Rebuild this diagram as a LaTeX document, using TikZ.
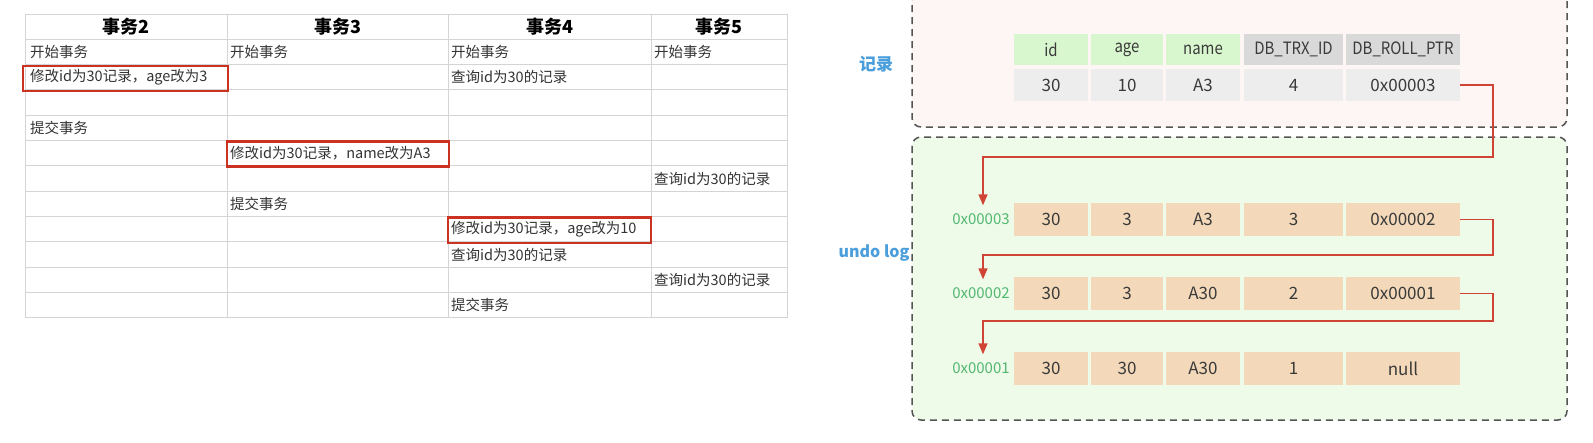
\documentclass[tikz,border=0pt]{standalone}
\usepackage{fontspec}
\setmainfont{Noto Sans CJK SC}
\newfontfamily\cond[FakeStretch=0.88]{Noto Sans CJK SC}
\usetikzlibrary{arrows.meta,calc}
\definecolor{gridgray}{HTML}{D4D4D4}
\definecolor{tabtext}{HTML}{333333}
\definecolor{hlred}{HTML}{CC3222}
\definecolor{arrred}{HTML}{D04436}
\definecolor{hgreen}{HTML}{D9F7CF}
\definecolor{hgray}{HTML}{D9D9D9}
\definecolor{dgray}{HTML}{EDEDED}
\definecolor{peach}{HTML}{F3D9B9}
\definecolor{pinkbg}{HTML}{FDF6F4}
\definecolor{greenbg}{HTML}{EEFBE8}
\definecolor{lblblue}{HTML}{4A9EDC}
\definecolor{addrgreen}{HTML}{52B872}
\definecolor{celltext}{HTML}{3A3A3A}
\definecolor{dashgray}{HTML}{555555}
\begin{document}
\begin{tikzpicture}[x=1pt,y=-1pt,
  gridline/.style={draw=gridgray, line width=1pt},
  ttext/.style={anchor=west, inner sep=0pt, text=tabtext, font=\fontsize{14.5}{16}\selectfont},
  thead/.style={inner sep=0pt, text=black, font=\fontsize{18}{20}\selectfont\bfseries},
  hlbox/.style={draw=hlred, line width=2.4pt, inner sep=0pt},
  cell/.style={inner sep=0pt, minimum height=32pt, text=celltext, font=\fontsize{17}{19}\selectfont},
  hcell/.style={cell, minimum height=31pt, font=\cond\fontsize{17}{19}\selectfont},
  ucell/.style={cell, fill=peach, minimum height=33pt},
  addr/.style={inner sep=0pt, minimum height=28pt, text=addrgreen, font=\fontsize{15}{17}\selectfont},
  lbl/.style={inner sep=0pt, text=lblblue, font=\fontsize{16}{18}\selectfont\bfseries},
  dbox/.style={draw=dashgray, line width=1.5pt, dash pattern=on 7pt off 5pt, rounded corners=9pt},
  arr/.style={draw=arrred, line width=1.4pt, -{Triangle[length=11pt,width=9pt]}}
]
\useasboundingbox (0,0) rectangle (1593,442);
\fill[white] (0,0) rectangle (1593,442);

% ---------- left table ----------
\foreach \yy in {14,39} \draw[gridline] (25,\yy) -- (787,\yy);
\foreach \k in {1,...,11} \draw[gridline] (25,{39+25.36*\k}) -- (787,{39+25.36*\k});
\foreach \xx in {25,227,448,651,787} \draw[gridline] (\xx,14) -- (\xx,318);

\node[thead] (hd2) at (126,27) {事务2};
\node[thead] (hd3) at (337.5,27) {事务3};
\node[thead] (hd4) at (549.5,27) {事务4};
\node[thead] (hd5) at (719,27) {事务5};

% row centres: 39+25.36*(k-0.5)
\node[ttext] (a1c1) at (30,51.7) {开始事务};
\node[ttext] (a1c2) at (230,51.7) {开始事务};
\node[ttext] (a1c3) at (451,51.7) {开始事务};
\node[ttext] (a1c4) at (654,51.7) {开始事务};
\node[ttext] (a2c1) at (30,77.5) {修改id为30记录，age改为3};
\node[ttext] (a2c3) at (451,77.1) {查询id为30的记录};
\node[ttext] (a4c1) at (30,127.8) {提交事务};
\node[ttext] (a5c2) at (230,153.5) {修改id为30记录，name改为A3};
\node[ttext] (a6c4) at (654,178.5) {查询id为30的记录};
\node[ttext] (a7c2) at (230,203.9) {提交事务};
\node[ttext] (a8c3) at (451,229.6) {修改id为30记录，age改为10};
\node[ttext] (a9c3) at (451,254.6) {查询id为30的记录};
\node[ttext] (a10c4) at (654,280) {查询id为30的记录};
\node[ttext] (a11c3) at (451,305.3) {提交事务};

\node[hlbox, minimum width=205pt, minimum height=25pt] (hl1) at (125.5,78.5) {};
\node[hlbox, minimum width=222pt, minimum height=25pt] (hl2) at (338,154) {};
\node[hlbox, minimum width=203pt, minimum height=25.5pt] (hl3) at (549.5,230.2) {};

% ---------- right: boxes ----------
\begin{scope}
\clip (0,0) rectangle (1593,442);
\draw[dbox, fill=pinkbg] (912,-40) rectangle (1567,127);
\end{scope}
\draw[dbox, fill=greenbg] (912,137) rectangle (1567,420);

\node[lbl, font=\fontsize{17}{19}\selectfont\bfseries] (lrec) at (876,64) {记录};
\node[lbl] (lundo) at (874,253) {undo log};

% record table
\node[hcell, fill=hgreen, minimum width=74pt] (h1) at (1051,49.5) {id};
\node[hcell, fill=hgreen, minimum width=72pt] (h2) at (1127,49.5) {age};
\node[hcell, fill=hgreen, minimum width=74pt] (h3) at (1203,49.5) {name};
\node[hcell, fill=hgray, minimum width=99pt] (h4) at (1293.5,49.5) {DB\_TRX\_ID};
\node[hcell, fill=hgray, minimum width=114pt] (h5) at (1403,49.5) {DB\_ROLL\_PTR};
\node[cell, fill=dgray, minimum width=74pt] (r1) at (1051,85) {30};
\node[cell, fill=dgray, minimum width=72pt] (r2) at (1127,85) {10};
\node[cell, fill=dgray, minimum width=74pt] (r3) at (1203,85) {A3};
\node[cell, fill=dgray, minimum width=99pt] (r4) at (1293.5,85) {4};
\node[cell, fill=dgray, minimum width=114pt] (r5) at (1403,85) {0x00003};

% undo rows
\node[addr] (ad1) at (981,219.5) {0x00003};
\node[ucell, minimum width=74pt] (u11) at (1051,219.5) {30};
\node[ucell, minimum width=72pt] (u12) at (1127,219.5) {3};
\node[ucell, minimum width=74pt] (u13) at (1203,219.5) {A3};
\node[ucell, minimum width=99pt] (u14) at (1293.5,219.5) {3};
\node[ucell, minimum width=114pt] (u15) at (1403,219.5) {0x00002};

\node[addr] (ad2) at (981,293.5) {0x00002};
\node[ucell, minimum width=74pt] (u21) at (1051,293.5) {30};
\node[ucell, minimum width=72pt] (u22) at (1127,293.5) {3};
\node[ucell, minimum width=74pt] (u23) at (1203,293.5) {A30};
\node[ucell, minimum width=99pt] (u24) at (1293.5,293.5) {2};
\node[ucell, minimum width=114pt] (u25) at (1403,293.5) {0x00001};

\node[addr] (ad3) at (981,368.5) {0x00001};
\node[ucell, minimum width=74pt] (u31) at (1051,368.5) {30};
\node[ucell, minimum width=72pt] (u32) at (1127,368.5) {30};
\node[ucell, minimum width=74pt] (u33) at (1203,368.5) {A30};
\node[ucell, minimum width=99pt] (u34) at (1293.5,368.5) {1};
\node[ucell, minimum width=114pt] (u35) at (1403,368.5) {null};

% pointer arrows
\draw[arr] (r5.east) -| (1493,157) -| ([xshift=2pt]ad1.north);
\draw[arr] (u15.east) -| (1493,255) -| ([xshift=2pt]ad2.north);
\draw[arr] (u25.east) -| (1493,321) -| ([xshift=2pt]ad3.north);
\end{tikzpicture}
\end{document}
